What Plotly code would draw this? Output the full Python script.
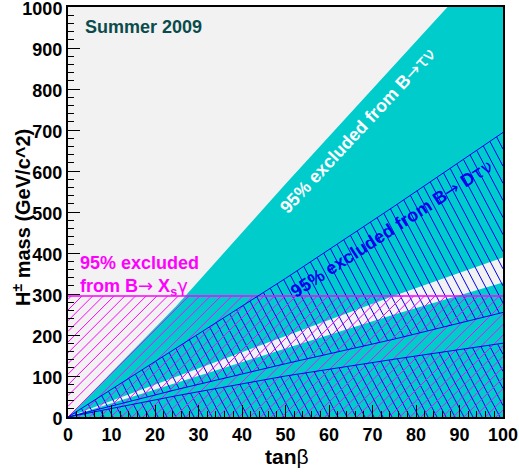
import numpy as np
import plotly.graph_objects as go

# ---------------- data ----------------
tanb_grid = [0, 25, 50, 75, 100]
btaunu_upper = [0, 272, 568, 858, 1148]      # edge of the B->tau nu excluded region
allowed_upper = [0, 99, 198, 296, 389]       # allowed (white) band, upper edge
allowed_lower = [0, 84, 167, 250, 328]       # allowed (white) band, lower edge
bdtaunu_upper = [0, 168, 338, 514, 694]      # B->D tau nu excluded wedge, top edge
bdtaunu_mid = [0, 67, 130, 190, 255]         # B->D tau nu excluded wedge, bottom edge
bdtaunu_lower = [0, 52, 100, 141, 180]       # B->D tau nu lower excluded region edge
bsgamma_limit = 295                          # B->Xs gamma limit on H+ mass
x_ticks = list(range(0, 101, 10))
y_ticks = list(range(0, 1001, 100))

# ---------------- layout constants ----------------
W, H = 519, 472
ML, MR, MT, MB = 68, 16, 7, 55
PX_X = (W - ML - MR) / 100.0
PX_Y = (H - MT - MB) / 1000.0

CYAN = "#00cccc"
BG = "#f2f2f2"
BLUE = "#0000f0"
MAGENTA = "#ff00ff"
FONT = "Liberation Sans, Arial, sans-serif"
SYM = "<span style='font-family:DejaVu Sans;font-weight:normal'>{}</span>"


def hatch_segments(lower, upper, slope_px, spacing_px):
    """Hatch lines (screen slope slope_px, horizontal spacing spacing_px)
    clipped to the region between two boundary curves."""
    t = np.linspace(0, 100, 8001)
    lo = np.interp(t, tanb_grid, lower)
    hi = np.minimum(np.interp(t, tanb_grid, upper), 1000)
    s = slope_px * PX_X / PX_Y
    dc = abs(s) * spacing_px / PX_X
    cmin = (lo - s * t).min()
    cmax = (hi - s * t).max()
    xs, ys = [], []
    for k in range(int(np.floor(cmin / dc)), int(np.ceil(cmax / dc)) + 1):
        c = k * dc
        m = c + s * t
        inside = (m >= lo) & (m <= hi)
        if not inside.any():
            continue
        d = np.diff(np.concatenate([[0], inside.astype(int), [0]]))
        starts = np.where(d == 1)[0]
        ends = np.where(d == -1)[0] - 1
        for a, b in zip(starts, ends):
            if b > a:
                xs += [t[a], t[b], None]
                ys += [m[a], m[b], None]
    return xs, ys


fig = go.Figure()

# B -> tau nu excluded (cyan)
fig.add_trace(go.Scatter(x=tanb_grid, y=btaunu_upper, mode="lines", fill="tozeroy",
                         fillcolor=CYAN, line=dict(width=0, color=CYAN), hoverinfo="skip"))
# allowed band
fig.add_trace(go.Scatter(x=tanb_grid, y=allowed_lower, mode="lines",
                         line=dict(width=0, color=BG), hoverinfo="skip"))
fig.add_trace(go.Scatter(x=tanb_grid, y=allowed_upper, mode="lines", fill="tonexty",
                         fillcolor=BG, line=dict(width=0, color=BG), hoverinfo="skip"))

# B -> D tau nu hatching (blue)
hx, hy = hatch_segments(bdtaunu_mid, bdtaunu_upper, -1.9, 9.0)
fig.add_trace(go.Scatter(x=hx, y=hy, mode="lines", line=dict(width=1, color=BLUE),
                         hoverinfo="skip"))
zeros = [0] * len(tanb_grid)
hx, hy = hatch_segments(zeros, bdtaunu_lower, -1.9, 9.0)
fig.add_trace(go.Scatter(x=hx, y=hy, mode="lines", line=dict(width=1, color=BLUE),
                         hoverinfo="skip"))

# B -> Xs gamma hatching (magenta)
limit = [bsgamma_limit] * len(tanb_grid)
hx, hy = hatch_segments(zeros, limit, 1.0, 10.7)
fig.add_trace(go.Scatter(x=hx, y=hy, mode="lines", line=dict(width=1, color=MAGENTA),
                         hoverinfo="skip"))
fig.add_trace(go.Scatter(x=[0, 100], y=limit[:2], mode="lines",
                         line=dict(width=1.5, color=MAGENTA), hoverinfo="skip"))

# B -> D tau nu boundary lines
for edge in (bdtaunu_upper, bdtaunu_mid, bdtaunu_lower):
    fig.add_trace(go.Scatter(x=tanb_grid, y=edge, mode="lines",
                             line=dict(width=1, color=BLUE), hoverinfo="skip"))

tickfont = dict(family=FONT, size=18, color="black", weight="bold")
axis_common = dict(showgrid=False, zeroline=False, showline=True, linecolor="black",
                   linewidth=2, mirror=True, ticks="inside", ticklen=12, tickwidth=1,
                   tickcolor="black", tickfont=tickfont, automargin=False,
                   ticklabeloverflow="allow")

fig.update_layout(
    width=W, height=H,
    margin=dict(l=ML, r=MR, t=MT, b=MB, autoexpand=False),
    paper_bgcolor="white", plot_bgcolor=BG,
    showlegend=False,
    xaxis=dict(range=[0, 100], tickvals=x_ticks, ticktext=[str(v) for v in x_ticks],
               minor=dict(dtick=2, ticks="inside", ticklen=6, tickcolor="black"),
               **axis_common),
    yaxis=dict(range=[0, 1000], tickvals=y_ticks, ticktext=[str(v) for v in y_ticks],
               minor=dict(dtick=20, ticks="inside", ticklen=6, tickcolor="black"),
               ticklabelshift=2, **axis_common),
)


def px2paper(px, py):
    return (px - ML) / (W - ML - MR), (H - MB - py) / (H - MT - MB)


def note(text, px, py, size, color, angle=0, xanchor="center", weight="normal"):
    x, y = px2paper(px, py)
    fig.add_annotation(text=text, x=x, y=y, xref="paper", yref="paper",
                       showarrow=False, xanchor=xanchor, yanchor="middle",
                       textangle=angle, align="left",
                       font=dict(family=FONT, size=size, color=color, weight=weight))


note("<b>Summer 2009</b>", 83, 27, 18, "#0b4b4b", xanchor="left")
note("<b>95% excluded</b><br><b>from B</b>" + SYM.format("→") + " <b>X<sub>s</sub></b>"
     + SYM.format("γ"), 78, 276, 18, MAGENTA, xanchor="left")
note("<b>95% excluded from B</b>" + SYM.format("→τν"), 357, 130, 18, "white", angle=-47)
note("<b>95% excluded from B</b>" + SYM.format("→") + " <b>D</b>" + SYM.format("τν"),
     391, 228, 18, BLUE, angle=-33)
note("<b>H<sup>±</sup> mass (GeV/c^2)</b>", 21, 218, 20, "black", angle=-90)
note("<b>tan</b>β", 287, 456, 21, "black")

fig.write_html("out.html", config={"displayModeBar": False},
               post_script="document.body.style.margin='0px';")
